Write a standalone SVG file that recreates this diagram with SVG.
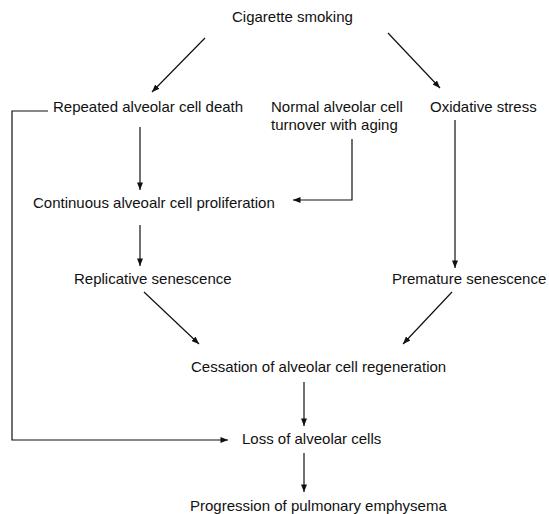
<svg xmlns="http://www.w3.org/2000/svg" width="549" height="514" viewBox="0 0 549 514">
<defs>
<style>
text{font-family:"Liberation Sans",Arial,sans-serif;font-size:15px;fill:#111}
.c{fill:none;stroke:#111;stroke-width:1.2}
</style>
<marker id="ah" viewBox="0 0 10 8" refX="10" refY="4" markerWidth="8" markerHeight="6" markerUnits="userSpaceOnUse" orient="auto">
<path d="M0,0 L10,4 L0,8 z" fill="#111"/>
</marker>
</defs>
<rect width="549" height="514" fill="#fff"/>
<g id="connectors">
<line class="c" x1="205" y1="38" x2="152" y2="92" marker-end="url(#ah)"/>
<line class="c" x1="388" y1="33" x2="440" y2="88" marker-end="url(#ah)"/>
<path class="c" d="M48,111 H12 V440 H228" marker-end="url(#ah)"/>
<line class="c" x1="140" y1="127" x2="140" y2="190" marker-end="url(#ah)"/>
<path class="c" d="M352,139 V200 H293" marker-end="url(#ah)"/>
<line class="c" x1="455" y1="120" x2="455" y2="268" marker-end="url(#ah)"/>
<line class="c" x1="140" y1="225" x2="140" y2="266" marker-end="url(#ah)"/>
<line class="c" x1="144" y1="292" x2="199" y2="344" marker-end="url(#ah)"/>
<line class="c" x1="452" y1="292" x2="403" y2="344" marker-end="url(#ah)"/>
<line class="c" x1="304" y1="382" x2="304" y2="426" marker-end="url(#ah)"/>
<line class="c" x1="304" y1="453" x2="304" y2="492" marker-end="url(#ah)"/>
</g>
<g id="n-smoking"><text x="232" y="22">Cigarette smoking</text></g>
<g id="n-death"><text x="53" y="112">Repeated alveolar cell death</text></g>
<g id="n-normal"><text x="271" y="112">Normal alveolar cell</text><text x="271" y="130">turnover with aging</text></g>
<g id="n-oxidative"><text x="430" y="112">Oxidative stress</text></g>
<g id="n-prolif"><text x="33" y="208">Continuous alveoalr cell proliferation</text></g>
<g id="n-replicative"><text x="74" y="284">Replicative senescence</text></g>
<g id="n-premature"><text x="392" y="284">Premature senescence</text></g>
<g id="n-cessation"><text x="191" y="372">Cessation of alveolar cell regeneration</text></g>
<g id="n-loss"><text x="242" y="444">Loss of alveolar cells</text></g>
<g id="n-progression"><text x="190" y="511">Progression of pulmonary emphysema</text></g>
</svg>
